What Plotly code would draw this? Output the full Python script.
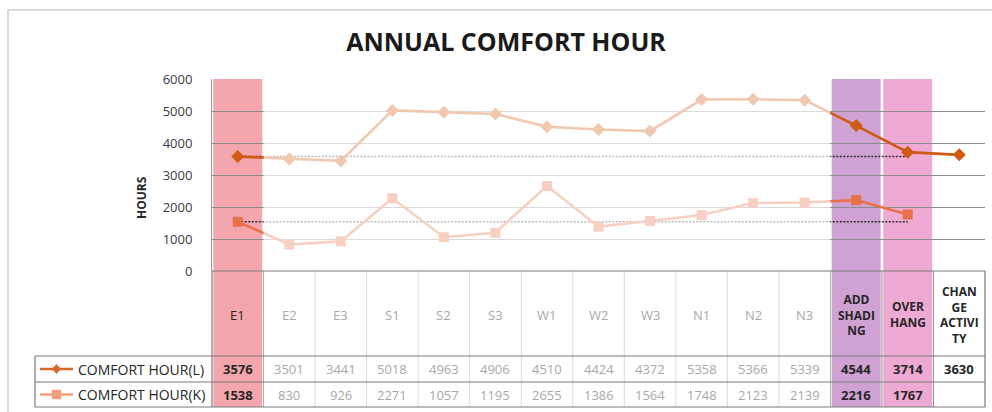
import plotly.graph_objects as go

# ---- data -------------------------------------------------------------
categories = ["E1", "E2", "E3", "S1", "S2", "S3", "W1", "W2", "W3",
              "N1", "N2", "N3", "ADD<br>SHADI<br>NG", "OVER<br>HANG",
              "CHAN<br>GE<br>ACTIVI<br>TY"]
comfort_l = [3576, 3501, 3441, 5018, 4963, 4906, 4510, 4424, 4372,
             5358, 5366, 5339, 4544, 3714, 3630]
comfort_k = [1538, 830, 926, 2271, 1057, 1195, 2655, 1386, 1564,
             1748, 2123, 2139, 2216, 1767, None]
series_names = ["COMFORT HOUR(L)", "COMFORT HOUR(K)"]
y_ticks = [0, 1000, 2000, 3000, 4000, 5000, 6000]

# reference (E1) level carried across the alternatives up to OVER HANG
baseline_span = 14
base_l = [comfort_l[0]] * baseline_span
base_k = [comfort_k[0]] * baseline_span

highlighted = {0, 12, 13, 14}
band_colors = {0: "#F4A6AE", 12: "#CFA2D3", 13: "#EEAAD3"}

# ---- styling ----------------------------------------------------------
W, H = 992, 412
PL, PR, PT, PB = 212, 985, 79, 271          # plot area in pixels
TABLE_BOTTOM = 407
HEAD_BOTTOM, ROW1_BOTTOM = 356, 382
LEG_LEFT = 35
FONT = "Open Sans"
COL_L, COL_K = "#D05A12", "#E8704A"
LEG_L, LEG_K = "#D9692A", "#F2A07E"
DARK, FADED = "#262626", "#A8A8A8"
GRID = "#8C8C8C"
n = len(categories)


def fx(px):
    return (px - PL) / (PR - PL)


def fy(py):
    return (PB - py) / (PB - PT)


x_idx = list(range(n))

fig = go.Figure()
for base in (base_l, base_k):
    fig.add_trace(go.Scatter(x=x_idx[:baseline_span], y=base, mode="lines",
                             line=dict(color="#2E2E2E", width=1.6,
                                       dash="2px,1.5px"),
                             hoverinfo="skip"))
fig.add_trace(go.Scatter(x=x_idx, y=comfort_l, mode="lines+markers",
                         name=series_names[0],
                         line=dict(color=COL_L, width=2.6),
                         marker=dict(symbol="diamond", size=10, color=COL_L)))
fig.add_trace(go.Scatter(x=x_idx, y=comfort_k, mode="lines+markers",
                         name=series_names[1],
                         line=dict(color=COL_K, width=2.6),
                         marker=dict(symbol="square", size=10, color=COL_K)))

shapes = []
# chart frame
shapes.append(dict(type="rect", xref="paper", yref="paper",
                   x0=fx(8), x1=fx(1010), y0=fy(10), y1=fy(430),
                   line=dict(color="#D0D0D0", width=1.5), layer="below"))
# highlight bands through plot and table
for i, c in band_colors.items():
    shapes.append(dict(type="rect", xref="x", yref="paper",
                       x0=i - 0.475, x1=i + 0.475, y0=fy(TABLE_BOTTOM), y1=1,
                       fillcolor=c, line=dict(width=0), layer="below"))
# inner vertical table lines
for i in range(1, n):
    shapes.append(dict(type="line", xref="paper", yref="paper",
                       x0=i / n, x1=i / n, y0=fy(PB), y1=fy(TABLE_BOTTOM),
                       line=dict(color="#8F8F8F", width=1), layer="above"))
# white veil over the plain orientation variants
shapes.append(dict(type="rect", xref="x", yref="paper",
                   x0=0.5, x1=11.5, y0=fy(TABLE_BOTTOM), y1=1.0,
                   fillcolor="white", opacity=0.67, line=dict(width=0),
                   layer="above"))
# table borders
tcol = "#7A7A7A"
for yy in (PB, HEAD_BOTTOM, ROW1_BOTTOM, TABLE_BOTTOM):
    x_start = fx(LEG_LEFT) if yy != PB else 0
    shapes.append(dict(type="line", xref="paper", yref="paper",
                       x0=x_start, x1=1, y0=fy(yy), y1=fy(yy),
                       line=dict(color=tcol, width=1.2), layer="above"))
for xx, ytop in ((fx(LEG_LEFT), HEAD_BOTTOM), (0, PB), (1, PB)):
    shapes.append(dict(type="line", xref="paper", yref="paper",
                       x0=xx, x1=xx, y0=fy(ytop), y1=fy(TABLE_BOTTOM),
                       line=dict(color=tcol, width=1.2), layer="above"))

# legend keys in the table rows
row_y = [(HEAD_BOTTOM + ROW1_BOTTOM) / 2, (ROW1_BOTTOM + TABLE_BOTTOM) / 2]
for r, (col, sym) in enumerate(((LEG_L, "diamond"), (LEG_K, "square"))):
    yc = row_y[r]
    shapes.append(dict(type="line", xref="paper", yref="paper",
                       x0=fx(40), x1=fx(73), y0=fy(yc), y1=fy(yc),
                       line=dict(color=col, width=2.6), layer="above"))
    cx, s = 56.5, 4.5
    if sym == "diamond":
        path = (f"M {fx(cx - s)},{fy(yc)} L {fx(cx)},{fy(yc - s)} "
                f"L {fx(cx + s)},{fy(yc)} L {fx(cx)},{fy(yc + s)} Z")
    else:
        path = (f"M {fx(cx - s)},{fy(yc - s)} L {fx(cx + s)},{fy(yc - s)} "
                f"L {fx(cx + s)},{fy(yc + s)} L {fx(cx - s)},{fy(yc + s)} Z")
    shapes.append(dict(type="path", xref="paper", yref="paper", path=path,
                       fillcolor=col, line=dict(color=col, width=0.5),
                       layer="above"))

annotations = []
# header cells
for i, label in enumerate(categories):
    multi = "<br>" in label
    color = DARK if i in highlighted else FADED
    txt = f"<b>{label}</b>" if multi else label
    annotations.append(dict(x=i, y=fy((PB + HEAD_BOTTOM) / 2 + 1), xref="x",
                            yref="paper", text=txt, showarrow=False,
                            xanchor="center", yanchor="middle",
                            font=dict(family=FONT, size=12 if multi else 13,
                                      color=color)))
# value rows
for r, vals in enumerate((comfort_l, comfort_k)):
    for i, v in enumerate(vals):
        if v is None:
            continue
        hl = i in highlighted
        annotations.append(dict(x=i, y=fy(row_y[r]), xref="x", yref="paper",
                                text=f"<b>{v}</b>" if hl else str(v),
                                showarrow=False, xanchor="center",
                                yanchor="middle",
                                font=dict(family=FONT, size=13,
                                          color=DARK if hl else FADED)))
    annotations.append(dict(x=fx(76), y=fy(row_y[r]), xref="paper",
                            yref="paper", text=series_names[r],
                            showarrow=False, xanchor="left", yanchor="middle",
                            font=dict(family=FONT, size=14, color=DARK,
                                      weight=500)))
# axis title
annotations.append(dict(x=fx(141), y=fy(198), xref="paper", yref="paper",
                        text="<b>HOURS</b>", textangle=-90, showarrow=False,
                        xanchor="center", yanchor="middle",
                        font=dict(family=FONT, size=12, color=DARK)))

fig.update_layout(
    width=W, height=H,
    margin=dict(l=PL, r=W - PR, t=PT, b=H - PB, pad=0),
    paper_bgcolor="white", plot_bgcolor="rgba(0,0,0,0)",
    showlegend=False,
    title=dict(text="<b>ANNUAL COMFORT HOUR</b>", x=506 / W,
               xanchor="center", y=1 - 42 / H, yanchor="middle",
               font=dict(family=FONT, size=25, color="#1A1A1A")),
    xaxis=dict(range=[-0.5, n - 0.5], showgrid=False, zeroline=False,
               showticklabels=False, showline=False, fixedrange=True),
    yaxis=dict(range=[0, 6000], tickvals=y_ticks, showgrid=True,
               gridcolor=GRID, gridwidth=1, zeroline=False,
               showline=True, linecolor="#9A9A9A", linewidth=1,
               ticks="", ticklabelstandoff=16,
               tickfont=dict(family=FONT, size=13, color="#3A3A3A")),
    shapes=shapes, annotations=annotations,
)
fig.layout.title.update(xref="container")

fig.write_html("out.html")
